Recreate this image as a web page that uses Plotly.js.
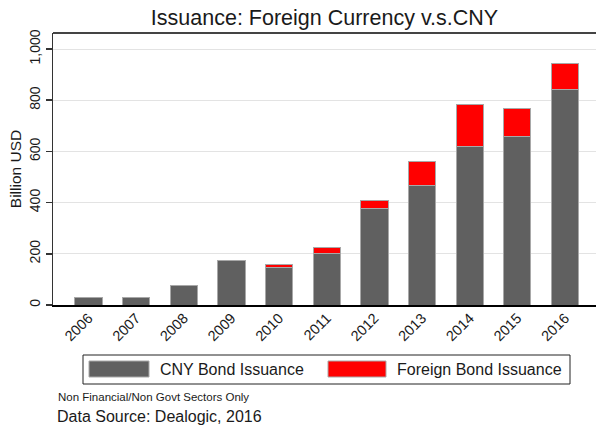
<!DOCTYPE html>
<html>
<head>
<meta charset="utf-8">
<script src="https://cdn.plot.ly/plotly-3.0.1.min.js"></script>
<style>html,body{margin:0;padding:0;background:#fff;}#chart{width:596px;height:432px;}</style>
</head>
<body>
<div id="chart"></div>
<script>
// Data (billion USD)
var years = ["2006","2007","2008","2009","2010","2011","2012","2013","2014","2015","2016"];
var cnyIssuance = [30, 30, 75, 173, 148, 203, 376, 467, 618, 660, 843];
var foreignIssuance = [0, 0, 0, 0, 11, 22, 32, 95, 164, 108, 102];
var yTickVals = [0, 200, 400, 600, 800, 1000];
var yTickText = ["0", "200", "400", "600", "800", "1,000"];

var W = 596, H = 432;
var M = {l: 53, r: 0, t: 33, b: 127};
var font = "Liberation Sans, Arial, sans-serif";
var txt = "#1a1a1a";

function px(x) { return (x - M.l) / (W - M.l - M.r); }
function py(y) { return (H - M.b - y) / (H - M.t - M.b); }

var xIdx = years.map(function (d, i) { return i; });

var traces = [
  {type: "bar", name: "CNY Bond Issuance", x: xIdx, y: cnyIssuance,
   marker: {color: "#606060", line: {color: "#a8a8a8", width: 1}}},
  {type: "bar", name: "Foreign Bond Issuance", x: xIdx, y: foreignIssuance,
   marker: {color: "#ff0000", line: {color: "#a8a8a8", width: 1}}}
];

var shapes = [
  {type: "line", xref: "paper", yref: "paper", x0: 0, x1: 1, y0: 1, y1: 1,
   line: {color: "#444", width: 2}},
  {type: "rect", xref: "paper", yref: "paper", x0: px(83), x1: px(570), y0: py(355), y1: py(384),
   line: {color: "#222", width: 1}, fillcolor: "rgba(0,0,0,0)"},
  {type: "rect", xref: "paper", yref: "paper", x0: px(89), x1: px(149), y0: py(361), y1: py(377),
   line: {color: "#a8a8a8", width: 1}, fillcolor: "#606060"},
  {type: "rect", xref: "paper", yref: "paper", x0: px(328), x1: px(386), y0: py(361), y1: py(377),
   line: {color: "#a8a8a8", width: 1}, fillcolor: "#ff0000"}
];

var annotations = [
  {xref: "paper", yref: "paper", x: px(158), y: py(369.5), xanchor: "left", yanchor: "middle",
   text: "CNY Bond Issuance", showarrow: false, font: {family: font, size: 16, color: txt}},
  {xref: "paper", yref: "paper", x: px(395), y: py(369.5), xanchor: "left", yanchor: "middle",
   text: "Foreign Bond Issuance", showarrow: false, font: {family: font, size: 16, color: txt}},
  {xref: "paper", yref: "paper", x: px(56), y: py(397), xanchor: "left", yanchor: "middle",
   text: "Non Financial/Non Govt Sectors Only", showarrow: false, font: {family: font, size: 11.5, color: txt}},
  {xref: "paper", yref: "paper", x: px(55), y: py(416), xanchor: "left", yanchor: "middle",
   text: "Data Source: Dealogic, 2016", showarrow: false, font: {family: font, size: 16, color: txt}}
];

var layout = {
  width: W, height: H,
  margin: {l: M.l, r: M.r, t: M.t, b: M.b, pad: 0},
  paper_bgcolor: "#fff", plot_bgcolor: "#fff",
  barmode: "stack", bargap: 0.43,
  showlegend: false,
  font: {family: font, color: txt},
  title: {text: "Issuance: Foreign Currency v.s.CNY", font: {family: font, size: 21.5, color: txt},
          xref: "paper", x: 0.5, xanchor: "center", yref: "container", y: 1 - 17 / H, yanchor: "middle"},
  xaxis: {range: [-0.745, 10.65], tickmode: "array", tickvals: xIdx, ticktext: years,
          tickangle: -45, ticks: "", showgrid: false, zeroline: false,
          showline: true, linecolor: "#000", linewidth: 2, ticklabelstandoff: -3,
          tickfont: {family: font, size: 14.5, color: txt}, fixedrange: true},
  yaxis: {range: [0, 1062.5], tickmode: "array", tickvals: yTickVals, ticktext: yTickText,
          tickangle: -90, ticks: "outside", ticklen: 6, tickwidth: 1.5, tickcolor: "#333",
          showline: true, linecolor: "#333", linewidth: 1.5,
          showgrid: true, gridcolor: "#e3e3e3", gridwidth: 1, zeroline: false,
          tickfont: {family: font, size: 14, color: txt},
          title: {text: "Billion USD", font: {family: font, size: 15.5, color: txt}, standoff: 1},
          fixedrange: true},
  shapes: shapes,
  annotations: annotations
};

Plotly.newPlot("chart", traces, layout, {displayModeBar: false, staticPlot: true});
</script>
</body>
</html>
